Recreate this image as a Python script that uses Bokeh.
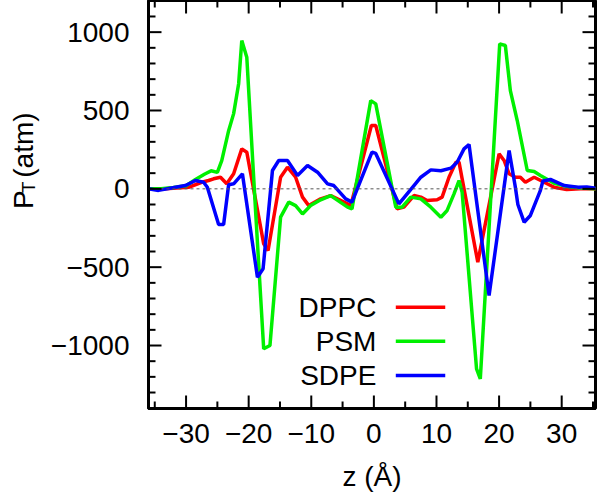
import math
from bokeh.plotting import figure
from bokeh.layouts import row
from bokeh.models import (Range1d, SingleIntervalTicker, Span, Label)
from bokeh.core.properties import value
from bokeh.embed import file_html
from bokeh.resources import INLINE

# ---- data (vertices) ----
dppc_z = [-36, -33.3, -29.6, -27.5, -26.4, -25.6, -24.5, -23.5, -22.4, -21.1, -20.3, -17.6, -16.9,
          -14.9, -13.8, -12.5, -11.4, -10.4, -8.5, -6.9, -4.2, -3.7, -0.4, 0.3, 3.7, 4.8, 6.4, 7.5,
          8.5, 10.1, 10.9, 12.0, 13.1, 13.6, 14.1, 16.6, 20.0, 20.8, 21.6, 22.6, 23.4, 24.2, 25.6,
          27.2, 28.8, 30.8, 33, 36]
dppc_p = [0, 0, 10, 42, 53, 64, 74, 32, 96, 255, 234, -351, -394,
          74, 138, 74, -53, -107, -64, -43, -96, -107, 404, 404, -128, -117, -43, -53,
          -75, -70, -53, 74, 170, 170, 64, -468, 223, 181, 96, 74, 74, 42, 74,
          42, 10, -5, 0, 0]

psm_z = [-36, -34, -32, -30, -28.5, -27, -26, -25, -24.3, -23.2, -22.4, -21.6, -21.1, -20.3, -18.9,
         -17.6, -16.6, -14.9, -13.6, -12.5, -11.4, -10.1, -8.5, -6.9, -4.2, -3.5, -0.5, 0.3, 3.5,
         4.5, 5.9, 7.5, 9.1, 10.7, 11.7, 12.8, 13.6, 14.1, 16.4, 17.0, 20.1, 21.0, 21.8, 22.9,
         24.5, 25.6, 26.6, 28.8, 30.9, 33, 36]
psm_p = [0, 0, 8, 20, 60, 95, 115, 105, 180, 371, 480, 671, 946, 840, -138,
         -1021, -1000, -181, -85, -107, -160, -107, -70, -43, -117, -128, 563, 542, -117,
         -117, -53, -64, -117, -181, -138, -32, 53, -22, -1149, -1213, 925, 915, 627, 436,
         117, 110, 85, 36, 15, 5, 0]

sdpe_z = [-36, -34.4, -31.7, -30.1, -28.5, -27.2, -26.6, -24.8, -24.0, -23.2, -22.4, -21.0, -18.6,
          -17.7, -16.2, -15.2, -13.8, -12.2, -10.6, -9.0, -7.4, -6.4, -4.5, -3.5, -0.3, 0.3, 4.0,
          6.4, 7.5, 9.1, 10.7, 12.3, 13.3, 14.4, 15.2, 18.4, 21.6, 22.6, 23.0, 24.0, 25.0, 26.6,
          27.0, 28.2, 30.4, 32.6, 34.0, 36]
sdpe_p = [0, -10, 10, 21, 53, 42, 10, -228, -228, 26, 32, 96, -564,
          -510, 117, 181, 181, 85, 149, 106, 32, 21, -64, -85, 234, 226, -96,
          21, 74, 121, 115, 132, 170, 255, 283, -681, 244, 10, -100, -213, -170, -10,
          50, 60, 21, 10, 12, 0]

series_names = ["DPPC", "PSM", "SDPE"]
series_colors = ["#ff0000", "#00f000", "#0000ff"]

x_ticks = [-30, -20, -10, 0, 10, 20, 30]
x_tick_labels = ["\u221230", "\u221220", "\u221210", "0", "10", "20", "30"]
x_minor_ticks = [-35, -25, -15, -5, 5, 15, 25, 35]
y_ticks = [-1000, -500, 0, 500, 1000]
y_tick_labels = ["\u22121000", "\u2212500", "0", "500", "1000"]
y_minor_ticks = [-1400, -1300, -1200, -1100, -900, -800, -700, -600, -400, -300, -200, -100,
                 100, 200, 300, 400, 600, 700, 800, 900, 1100, 1200]

# ---- styling / layout ----
FONT = "Liberation Sans"
TICK_SIZE = "28px"
LABEL_SIZE = "28px"
LAB_W = 40                 # width of the y-label strip
W, H = 600, 495
FRAME_L, FRAME_W, FRAME_H = 148, 447, 408
X_LO, X_HI = -36, 35.4
Y_LO, Y_HI = -1402, 1202
XPP = (X_HI - X_LO) / FRAME_W       # data units per pixel
YPP = (Y_HI - Y_LO) / FRAME_H
MAJ, MIN = 13, 7                    # tick lengths in px

p = figure(width=W - LAB_W, height=H, output_backend="svg", toolbar_location=None,
           x_range=Range1d(X_LO, X_HI), y_range=Range1d(Y_LO, Y_HI),
           min_border_left=FRAME_L - LAB_W, min_border_right=W - FRAME_L - FRAME_W,
           min_border_top=0, min_border_bottom=H - FRAME_H)
p.xgrid.visible = False
p.ygrid.visible = False
p.outline_line_color = "black"
p.outline_line_width = 3
p.background_fill_color = "white"
p.border_fill_color = "white"

p.add_layout(Span(location=0, dimension="width", line_color="#555555",
                  line_width=1, line_dash="3 3"))

for z, pt, c in zip([dppc_z, psm_z, sdpe_z], [dppc_p, psm_p, sdpe_p], series_colors):
    p.line(z, pt, line_color=c, line_width=3.5)

# ---- inward ticks on all four sides ----
tick_xs, tick_ys = [], []
for vals, length in [(x_ticks, MAJ), (x_minor_ticks, MIN)]:
    for v in vals:
        tick_xs += [[v, v], [v, v]]
        tick_ys += [[Y_LO, Y_LO + length * YPP], [Y_HI, Y_HI - length * YPP]]
for vals, length in [(y_ticks, MAJ), (y_minor_ticks, MIN)]:
    for v in vals:
        tick_xs += [[X_LO, X_LO + length * XPP], [X_HI, X_HI - length * XPP]]
        tick_ys += [[v, v], [v, v]]
p.multi_line(xs=tick_xs, ys=tick_ys, line_color="black", line_width=2, level="overlay")

for ax, ticks, labels, interval in [(p.xaxis[0], x_ticks, x_tick_labels, 10),
                                    (p.yaxis[0], y_ticks, y_tick_labels, 500)]:
    ax.ticker = SingleIntervalTicker(interval=interval, num_minor_ticks=0)
    ax.major_label_overrides = {t: l for t, l in zip(ticks, labels)}
    ax.axis_line_width = 3
    ax.axis_line_color = "black"
    ax.major_tick_in = 0
    ax.major_tick_out = 0
    ax.minor_tick_in = 0
    ax.minor_tick_out = 0
    ax.major_label_text_font = FONT
    ax.major_label_text_font_size = TICK_SIZE
    ax.major_label_text_color = "black"

p.xaxis[0].major_label_standoff = 15
p.yaxis[0].major_label_standoff = 19
p.xaxis[0].axis_label = "z (\u00c5)"
p.xaxis[0].axis_label_text_font = FONT
p.xaxis[0].axis_label_text_font_size = LABEL_SIZE
p.xaxis[0].axis_label_text_font_style = "normal"
p.xaxis[0].axis_label_text_color = "black"
p.xaxis[0].axis_label_standoff = 15

# ---- legend (labels left of line samples) ----
LEG_TEXT_X = 0.4
LEG_X0, LEG_X1 = 3.5, 11.4
LEG_Y = [-756, -973, -1191]
for name, c, ly in zip(series_names, series_colors, LEG_Y):
    p.add_layout(Label(x=LEG_TEXT_X, y=ly, text=name, text_font=FONT, text_color="black",
                       text_font_size=LABEL_SIZE, text_align="right", text_baseline="middle"))
    p.segment(x0=[LEG_X0], y0=[ly], x1=[LEG_X1], y1=[ly], line_color=c, line_width=3.5)

# ---- y-axis title strip: P_T (atm), rotated text glyphs ----
lab = figure(width=LAB_W, height=H, output_backend="svg", toolbar_location=None,
             x_range=Range1d(0, LAB_W), y_range=Range1d(0, H),
             x_axis_type=None, y_axis_type=None, min_border=0)
lab.xgrid.visible = False
lab.ygrid.visible = False
lab.outline_line_color = None
lab.background_fill_color = "white"
lab.border_fill_color = "white"
YLAB_BASE = 23          # baseline x (px from left)
ylab_parts = ["P", "T", "(atm)"]
ylab_x = [YLAB_BASE, YLAB_BASE + 5, YLAB_BASE]
ylab_y = [H - 253, H - 234, H - 215]
ylab_sizes = [LABEL_SIZE, "19px", LABEL_SIZE]
for t, xx, yy, fs in zip(ylab_parts, ylab_x, ylab_y, ylab_sizes):
    lab.text(x=[xx], y=[yy], text=[t], angle=math.pi / 2, text_font=value(FONT),
             text_color="black", text_font_size=fs, text_align="left",
             text_baseline="alphabetic")

layout = row(lab, p, spacing=0)
open("out.html", "w").write(file_html(layout, INLINE))
